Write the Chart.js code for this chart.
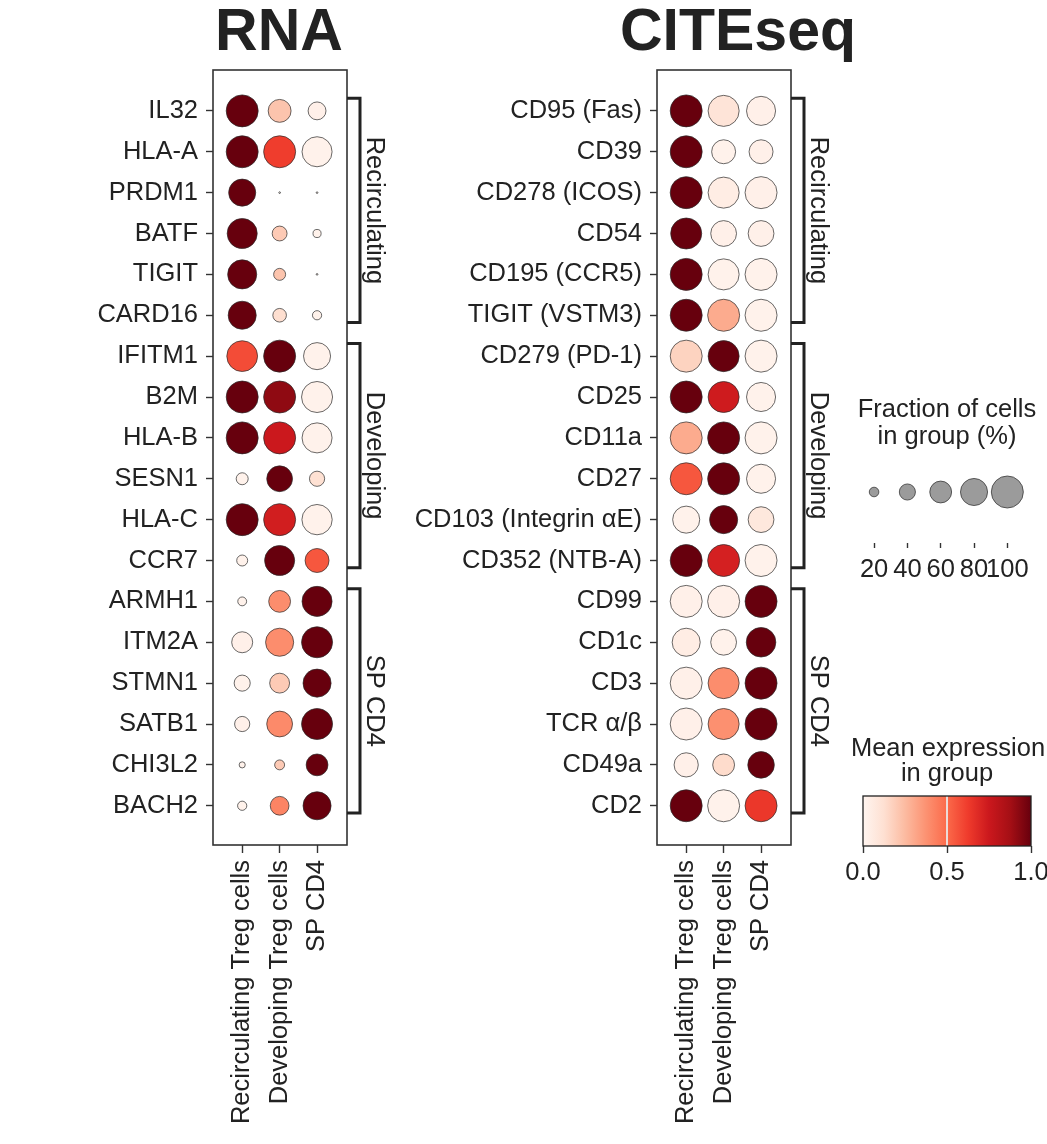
<!DOCTYPE html>
<html>
<head>
<meta charset="utf-8">
<script src="https://cdn.jsdelivr.net/npm/chart.js@4.4.1/dist/chart.umd.min.js"></script>
<style>
html,body{margin:0;padding:0;background:#fff;width:1047px;height:1144px;overflow:hidden;}
.wrap{position:absolute;}
</style>
</head>
<body>
<div class="wrap" id="wRna"><canvas id="rna"></canvas></div>
<div class="wrap" id="wCite"><canvas id="cite"></canvas></div>
<div class="wrap" id="wSize"><canvas id="sizeLeg"></canvas></div>
<div class="wrap" id="wCbar"><canvas id="cbar"></canvas></div>
<script>
// ---------------- DATA ----------------
const groups = ['Recirculating Treg cells', 'Developing Treg cells', 'SP CD4'];
const modules = ['Recirculating', 'Developing', 'SP CD4'];
const moduleStarts = [0, 6, 12];
const moduleEnds = [5, 11, 17];

const rnaGenes = ['IL32','HLA-A','PRDM1','BATF','TIGIT','CARD16','IFITM1','B2M','HLA-B','SESN1','HLA-C','CCR7','ARMH1','ITM2A','STMN1','SATB1','CHI3L2','BACH2'];
// fraction of cells expressing (%)
const rnaFracRecirc = [100,100,80,92,88,84,95,100,100,27,100,24,18,57,40,37,11,19];
const rnaFracDev    = [64,100,2,36,27,32,100,100,100,75,100,92,60,84,53,75,21,49];
const rnaFracSP     = [46,92,2,16,2,19,80,96,92,37,93,68,92,96,84,96,60,84];
// mean expression (scaled 0-1)
const rnaExprRecirc = [1.0,1.0,1.0,1.0,1.0,1.0,0.58,1.0,1.0,0.02,1.0,0.02,0.02,0.03,0.02,0.03,0.02,0.02];
const rnaExprDev    = [0.22,0.62,0,0.2,0.22,0.13,1.0,0.92,0.75,1.0,0.73,1.0,0.39,0.39,0.2,0.4,0.2,0.42];
const rnaExprSP     = [0.03,0.02,0,0.02,0,0.02,0.02,0.02,0.02,0.12,0.02,0.55,1.0,1.0,1.0,1.0,1.0,1.0];

const citeProteins = ['CD95 (Fas)','CD39','CD278 (ICOS)','CD54','CD195 (CCR5)','TIGIT (VSTM3)','CD279 (PD-1)','CD25','CD11a','CD27','CD103 (Integrin \u03b1E)','CD352 (NTB-A)','CD99','CD1c','CD3','TCR \u03b1/\u03b2','CD49a','CD2'];
const citeFracRecirc = [100,100,100,96,100,100,100,100,100,100,80,100,100,84,100,100,69,100];
const citeFracDev    = [96,68,96,75,96,100,96,96,100,100,84,100,100,75,96,96,60,100];
const citeFracSP     = [88,68,100,75,100,100,100,88,100,88,75,100,100,90,100,100,78,100];
const citeExprRecirc = [1.0,1.0,1.0,1.0,1.0,1.0,0.17,1.0,0.3,0.55,0.02,1.0,0.03,0.05,0.03,0.03,0.03,1.0];
const citeExprDev    = [0.1,0.02,0.05,0.03,0.02,0.3,1.0,0.74,1.0,1.0,1.0,0.72,0.03,0.02,0.39,0.38,0.14,0.02];
const citeExprSP     = [0.03,0.03,0.03,0.03,0.02,0.02,0.02,0.02,0.02,0.02,0.08,0.02,1.0,1.0,1.0,1.0,1.0,0.64];

const sizeLegendTicks = [20, 40, 60, 80, 100];
const colorbarTicks = [0, 0.5, 1.0];

// ---------------- STYLE ----------------
const FONT = "'Liberation Sans', Arial, Helvetica, sans-serif";
const TXT = '#222';
const FS = 25.5;
const REDS = ['#fff5f0','#fee0d2','#fcbba1','#fc9272','#fb6a4a','#ef3b2c','#cb181d','#a50f15','#67000d'];
function hex2rgb(h){return [parseInt(h.slice(1,3),16),parseInt(h.slice(3,5),16),parseInt(h.slice(5,7),16)];}
const REDS_RGB = REDS.map(hex2rgb);
function reds(v){
  v = Math.max(0, Math.min(1, v));
  const t = v * (REDS.length - 1);
  const i = Math.min(Math.floor(t), REDS.length - 2);
  const f = t - i;
  const a = REDS_RGB[i], b = REDS_RGB[i+1];
  return 'rgb(' + [0,1,2].map(k => Math.round(a[k] + (b[k]-a[k])*f)).join(',') + ')';
}
const MAX_R = 16;
function dotRadius(frac){ return MAX_R * Math.pow(Math.max(frac,0), 0.75); }

Chart.defaults.font.family = FONT;
Chart.defaults.color = TXT;
Chart.defaults.animation = false;

function place(id, left, top, w, h){
  const el = document.getElementById(id);
  el.style.left = left + 'px'; el.style.top = top + 'px';
  el.style.width = w + 'px'; el.style.height = h + 'px';
}

// ---------------- PANEL PLUGIN ----------------
const panelDecor = {
  id: 'panelDecor',
  afterDraw(chart, args, o) {
    const {ctx, chartArea: a} = chart;
    const y = chart.scales.y;
    ctx.save();
    ctx.strokeStyle = '#333'; ctx.lineWidth = 1.6;
    ctx.strokeRect(a.left, a.top, a.right - a.left, a.bottom - a.top);
    ctx.strokeStyle = '#222'; ctx.lineWidth = 3; ctx.lineJoin = 'miter'; ctx.lineCap = 'butt';
    modules.forEach((m, i) => {
      const t = y.getPixelForValue(moduleStarts[i] - 0.31);
      const b = y.getPixelForValue(moduleEnds[i] + 0.18);
      const bx = a.right + 13;
      ctx.beginPath();
      ctx.moveTo(a.right, t); ctx.lineTo(bx, t); ctx.lineTo(bx, b); ctx.lineTo(a.right, b);
      ctx.stroke();
      ctx.save();
      ctx.translate(bx + 7, (t + b) / 2);
      ctx.rotate(Math.PI / 2);
      ctx.font = FS + 'px ' + FONT;
      ctx.fillStyle = TXT; ctx.textAlign = 'center'; ctx.textBaseline = 'alphabetic';
      ctx.fillText(m, 0, 0);
      ctx.restore();
    });
    ctx.font = 'bold 59px ' + FONT;
    ctx.fillStyle = TXT; ctx.textAlign = 'center'; ctx.textBaseline = 'alphabetic';
    ctx.fillText(o.title, o.titleX, 50);
    ctx.restore();
  }
};

function makePanel(canvasId, labels, fracs, exprs, cfg) {
  const pts = [];
  labels.forEach((lab, r) => {
    for (let g = 0; g < groups.length; g++) {
      pts.push({x: g, y: r, frac: fracs[g][r] / 100, expr: exprs[g][r]});
    }
  });
  return new Chart(document.getElementById(canvasId), {
    type: 'bubble',
    data: {datasets: [{
      data: pts,
      radius: ctx => ctx.raw ? dotRadius(ctx.raw.frac) : 0,
      backgroundColor: ctx => ctx.raw ? reds(ctx.raw.expr) : '#fff',
      borderColor: '#2a2a2a',
      borderWidth: 0.7,
      clip: false
    }]},
    options: {
      responsive: true, maintainAspectRatio: false, events: [],
      layout: {padding: {left: 0, top: 70, right: cfg.padRight, bottom: 0}},
      plugins: {legend: {display: false}, tooltip: {enabled: false},
        panelDecor: {title: cfg.title, titleX: cfg.titleX}},
      scales: {
        x: {
          type: 'linear', position: 'bottom', min: -0.78, max: 2.8,
          afterBuildTicks: s => { s.ticks = groups.map((_, i) => ({value: i})); },
          afterFit: s => { s.height = 299; },
          border: {display: false},
          grid: {drawOnChartArea: false, drawTicks: true, tickLength: 8, tickColor: '#333', tickWidth: 1.4},
          ticks: {autoSkip: false, minRotation: 90, maxRotation: 90, padding: 7,
            font: {size: FS}, color: TXT, callback: v => groups[v]}
        },
        y: {
          type: 'linear', position: 'left', min: -1.0, max: 17.96, reverse: true,
          afterBuildTicks: s => { s.ticks = labels.map((_, i) => ({value: i})); },
          afterFit: s => { s.width = cfg.yWidth; },
          border: {display: false},
          grid: {drawOnChartArea: false, drawTicks: true, tickLength: 7, tickColor: '#333', tickWidth: 1.4},
          ticks: {autoSkip: false, padding: 8, font: {size: FS}, color: TXT, callback: v => labels[v]}
        }
      }
    },
    plugins: [panelDecor]
  });
}

// RNA panel: box 213..347 x 70..845
place('wRna', 0, 0, 400, 1144);
makePanel('rna', rnaGenes,
  [rnaFracRecirc, rnaFracDev, rnaFracSP],
  [rnaExprRecirc, rnaExprDev, rnaExprSP],
  {yWidth: 213, padRight: 400 - 347, title: 'RNA', titleX: 279});

// CITEseq panel: box 657..791
place('wCite', 390, 0, 657, 1144);
makePanel('cite', citeProteins,
  [citeFracRecirc, citeFracDev, citeFracSP],
  [citeExprRecirc, citeExprDev, citeExprSP],
  {yWidth: 657 - 390, padRight: 657 - (791 - 390), title: 'CITEseq', titleX: 738 - 390});

// ---------------- SIZE LEGEND ----------------
const sizeDecor = {
  id: 'sizeDecor',
  afterDraw(chart) {
    const ctx = chart.ctx;
    ctx.save();
    ctx.font = FS + 'px ' + FONT; ctx.fillStyle = TXT;
    ctx.textAlign = 'center'; ctx.textBaseline = 'alphabetic';
    ctx.fillText('Fraction of cells', 107, 37);
    ctx.fillText('in group (%)', 107, 64);
    ctx.restore();
  }
};
place('wSize', 840, 380, 215, 220);
new Chart(document.getElementById('sizeLeg'), {
  type: 'bubble',
  data: {datasets: [{
    data: sizeLegendTicks.map((v, i) => ({x: i, y: 0.5, frac: v / 100})),
    radius: ctx => ctx.raw ? dotRadius(ctx.raw.frac) : 0,
    backgroundColor: '#9b9b9b', borderColor: '#3a3a3a', borderWidth: 0.8, clip: false
  }]},
  options: {
    responsive: true, maintainAspectRatio: false, events: [],
    layout: {padding: {left: 17.4, top: 61, right: 31, bottom: 0}},
    plugins: {legend: {display: false}, tooltip: {enabled: false}},
    scales: {
      x: {type: 'linear', min: -0.5, max: 4.5,
        afterBuildTicks: s => { s.ticks = sizeLegendTicks.map((_, i) => ({value: i})); },
        afterFit: s => { s.height = 57; },
        border: {display: false},
        grid: {drawOnChartArea: false, drawTicks: true, tickLength: 5, tickColor: '#333', tickWidth: 1.4},
        ticks: {autoSkip: false, maxRotation: 0, padding: 7, font: {size: FS}, color: TXT,
          callback: v => String(sizeLegendTicks[v])}
      },
      y: {display: false, min: 0, max: 1}
    }
  },
  plugins: [sizeDecor]
});

// ---------------- COLORBAR ----------------
const cbarDecor = {
  id: 'cbarDecor',
  beforeDatasetsDraw(chart) {
    const {ctx, chartArea: a} = chart;
    const x = chart.scales.x;
    ctx.save();
    const g = ctx.createLinearGradient(x.getPixelForValue(0), 0, x.getPixelForValue(1), 0);
    REDS.forEach((c, i) => g.addColorStop(i / (REDS.length - 1), c));
    ctx.fillStyle = g;
    ctx.fillRect(a.left, a.top, a.right - a.left, a.bottom - a.top);
    const xm = x.getPixelForValue(0.5);
    ctx.strokeStyle = 'rgba(235,225,222,0.95)'; ctx.lineWidth = 2;
    ctx.beginPath(); ctx.moveTo(xm, a.top); ctx.lineTo(xm, a.bottom); ctx.stroke();
    ctx.strokeStyle = '#222'; ctx.lineWidth = 1.3;
    ctx.strokeRect(a.left, a.top, a.right - a.left, a.bottom - a.top);
    ctx.font = FS + 'px ' + FONT; ctx.fillStyle = TXT;
    ctx.textAlign = 'center'; ctx.textBaseline = 'alphabetic';
    ctx.fillText('Mean expression', 108, 56);
    ctx.fillText('in group', 107, 81);
    ctx.restore();
  }
};
place('wCbar', 840, 700, 215, 200);
new Chart(document.getElementById('cbar'), {
  type: 'scatter',
  data: {datasets: [{data: []}]},
  options: {
    responsive: true, maintainAspectRatio: false, events: [],
    layout: {padding: {left: 23, top: 96, right: 24, bottom: 0}},
    plugins: {legend: {display: false}, tooltip: {enabled: false}},
    scales: {
      x: {type: 'linear', min: 0, max: 1,
        afterBuildTicks: s => { s.ticks = colorbarTicks.map(v => ({value: v})); },
        afterFit: s => { s.height = 54; },
        border: {display: false},
        grid: {drawOnChartArea: false, drawTicks: true, tickLength: 7, tickColor: '#333', tickWidth: 1.4},
        ticks: {autoSkip: false, maxRotation: 0, padding: 5, font: {size: FS}, color: TXT,
          callback: v => Number(v).toFixed(1)}
      },
      y: {display: false, min: 0, max: 1}
    }
  },
  plugins: [cbarDecor]
});
</script>
</body>
</html>
